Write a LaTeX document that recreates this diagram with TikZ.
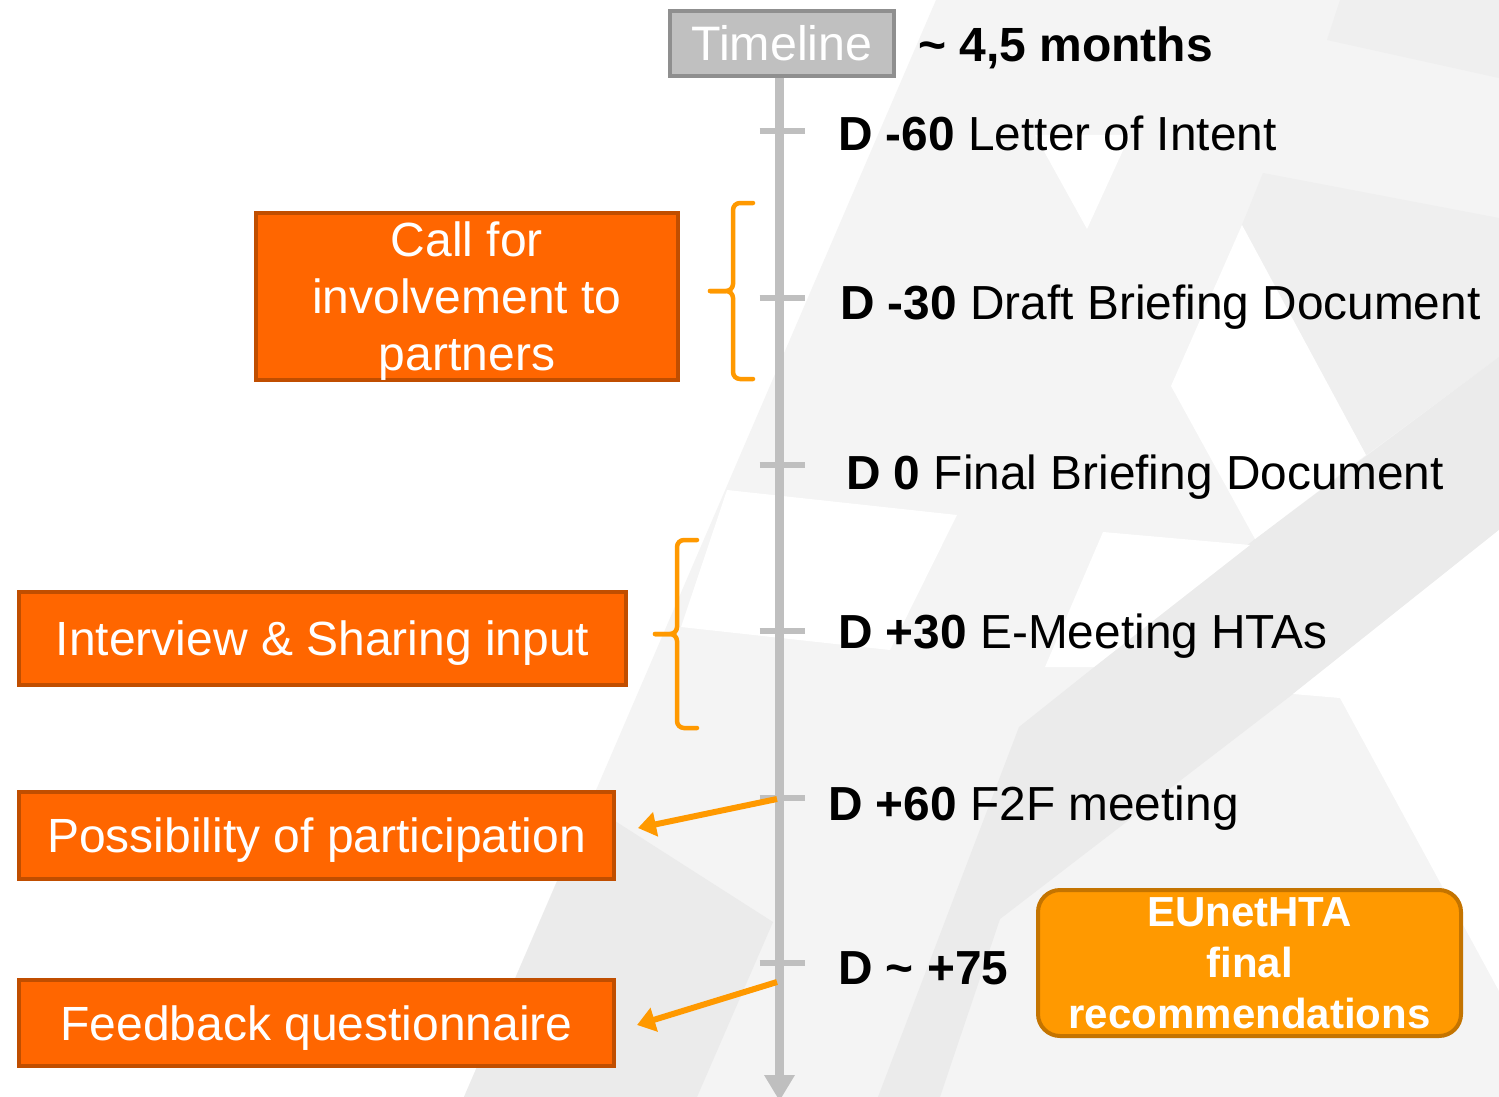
\documentclass[tikz,border=0pt]{standalone}
\usepackage{fontspec}
\setmainfont{Liberation Sans}
\usetikzlibrary{arrows.meta}

\definecolor{bgA}{HTML}{F4F4F4}
\definecolor{bgB}{HTML}{EFEFEF}
\definecolor{bgC}{HTML}{EBEBEB}
\definecolor{axis}{HTML}{BFBFBF}
\definecolor{tlfill}{HTML}{C0C0C0}
\definecolor{tlline}{HTML}{8F8F8F}
\definecolor{boxfill}{HTML}{FF6600}
\definecolor{boxline}{HTML}{C04E00}
\definecolor{accent}{HTML}{FF9900}
\definecolor{recline}{HTML}{C47400}

\begin{document}
\begin{tikzpicture}[x=1pt,y=-1pt,
  box/.style={draw=boxline, fill=boxfill, line width=4pt, inner sep=0pt,
    text=white, font=\fontsize{48}{57}\selectfont, align=center, text depth=0pt},
  recbox/.style={draw=recline, fill=accent, line width=4pt, inner sep=0pt,
    rounded corners=22pt, text=white, align=center,
    font=\fontsize{42}{51}\selectfont\bfseries},
  tlbox/.style={draw=tlline, fill=tlfill, line width=4pt, inner sep=0pt,
    text=white, font=\fontsize{48.4}{56}\selectfont},
  lbl/.style={anchor=base west, inner sep=0pt, font=\fontsize{47.8}{56}\selectfont},
  tickmark/.style={draw=axis, line width=6pt},
  brk/.style={draw=accent, line width=4.5pt, rounded corners=7pt, line cap=round},
  pointer/.style={draw=accent, line width=6pt, -{Triangle[length=18pt,width=24pt]}},
  axisline/.style={draw=axis, line width=9pt, -{Triangle[length=26pt,width=29pt]}}
]
\useasboundingbox (0,0) rectangle (1499,1097);
\begin{scope}
\clip (0,0) rectangle (1499,1097);
% faceted background
\fill[white] (0,0) rectangle (1499,1097);
\fill[bgA] (936,0) -- (1499,0) -- (1499,1097) -- (464,1097) -- cycle;
\fill[bgB] (1340,0) -- (1327,40) -- (1499,78) -- (1499,0) -- cycle;
\fill[bgB] (1263,173) -- (1499,218) -- (1499,357) -- (1366,455) -- (1242,225) -- cycle;
\fill[bgC] (878,1097) -- (1019,727) -- (1255,539) -- (1499,357) -- (1499,530)
  -- (1450,569) -- (1293,694) -- (1000,919) -- (940,1097) -- cycle;
\fill[bgC] (590,805) -- (773,922) -- (697,1097) -- (464,1097) -- cycle;
\fill[white] (1035,135) -- (1130,135) -- (1087,229) -- cycle;
\fill[white] (1242,225) -- (1171,386) -- (1255,539) -- (1366,455) -- cycle;
\fill[white] (727,490) -- (957,515) -- (890,650) -- (681,627) -- cycle;
\fill[white] (1103,532) -- (1250,545) -- (1094,667) -- (1045,667) -- cycle;
\fill[white] (1293,694) -- (1340,698) -- (1499,991) -- (1499,530) -- (1450,569) -- cycle;
\end{scope}

% timeline header
\node[tlbox, minimum width=224pt, minimum height=65pt] (tl) at (782,43.5) {Timeline};
\node[anchor=base west, inner sep=0pt, font=\fontsize{48}{56}\selectfont\bfseries]
  (dur) at (918,62) {\textasciitilde{} 4,5 months};

% axis with ticks
\coordinate (axend) at (779.5,1101);
\draw[axisline] (tl.south -| axend) -- (axend);
\foreach \n/\y in {1/131,2/298,3/465,4/631,5/798,6/963}{
  \coordinate (t\n) at (779.5,\y);
  \draw[tickmark] ([xshift=-20pt]t\n) -- ([xshift=25pt]t\n);
}

% milestones
\node[lbl] (l1) at (838,150) {\textbf{D -60} Letter of Intent};
\node[lbl] (l2) at (840,319) {\textbf{D -30} Draft Briefing Document};
\node[lbl] (l3) at (846,489) {\textbf{D 0} Final Briefing Document};
\node[lbl] (l4) at (838,648) {\textbf{D +30} E-Meeting HTAs};
\node[lbl] (l5) at (828,820) {\textbf{D +60} F2F meeting};
\node[lbl] (l6) at (838,984) {\textbf{D \textasciitilde{} +75}};

% activity boxes
\node[box, minimum width=422pt, minimum height=167pt] (call) at (467,296.5)
  {Call for\\involvement to\\partners};
\node[box, minimum width=607pt, minimum height=93pt] (intv) at (322.5,638.5)
  {Interview \& Sharing input};
\node[box, minimum width=595pt, minimum height=87pt] (poss) at (316.5,835.5)
  {Possibility of participation};
\node[box, minimum width=595pt, minimum height=86pt] (feed) at (316.5,1023)
  {Feedback questionnaire};
\node[recbox, minimum width=423pt, minimum height=146pt] (eunet) at (1249.5,963)
  {EUnetHTA\\final\\recommendations};

% braces grouping milestones
\draw[brk] (753,203) -- (733,203) -- (733,291) -- (710,291);
\draw[brk] (710,291) -- (733,291) -- (733,379) -- (753,379);
\draw[brk] (697,540) -- (677,540) -- (677,634) -- (655,634);
\draw[brk] (655,634) -- (677,634) -- (677,728) -- (697,728);

% pointers to participation and feedback
\coordinate (p5) at (777,799);
\coordinate (p5end) at (638,828);
\coordinate (p6) at (777,982);
\coordinate (p6end) at (637,1025);
\draw[pointer] (p5) -- (p5end);
\draw[pointer] (p6) -- (p6end);
\end{tikzpicture}
\end{document}
